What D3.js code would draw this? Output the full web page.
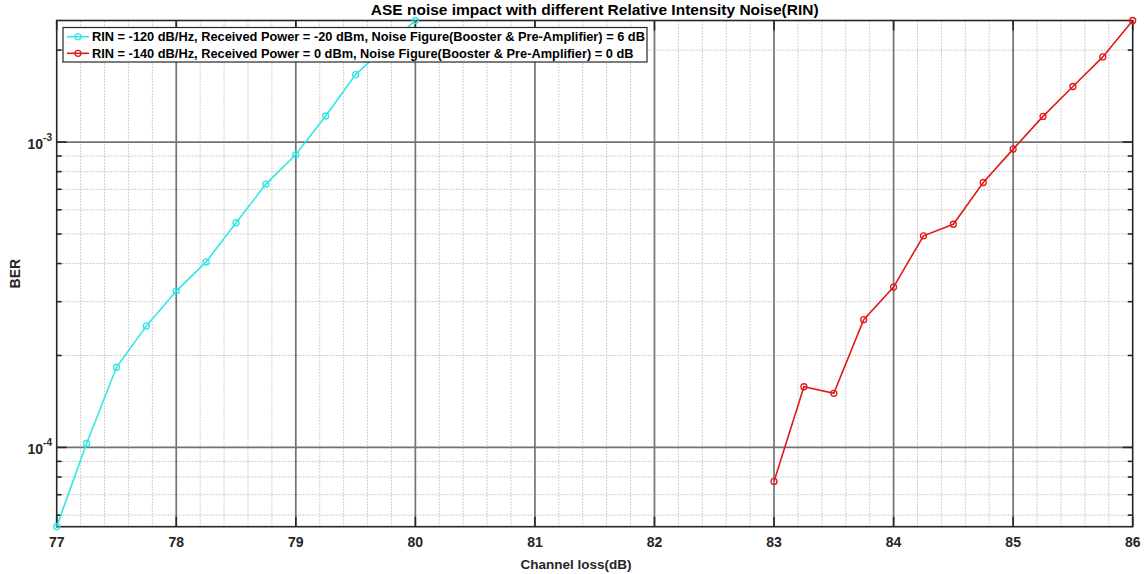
<!DOCTYPE html>
<meta charset="utf-8">
<style>
body { margin: 0; background: #fff; }
svg { font-family: "Liberation Sans", Arial, sans-serif; font-weight: bold; }
.major { stroke: #737373; stroke-width: 1.7px; }
.minor { stroke: #c0c0c0; stroke-width: 1px; stroke-dasharray: 1.5,1.5; }
</style>
<svg></svg>
<script src="https://d3js.org/d3.v7.min.js"></script>
<script>

var width = 1145,
    height = 574;

var margin = {top: 20.5, right: 12.3, bottom: 47.3, left: 56.7};

// channel loss values (dB)
var lossA = [77, 77.25, 77.5, 77.75, 78, 78.25, 78.5, 78.75, 79, 79.25, 79.5, 79.75, 80];
var berA = [5.5e-5, 1.03e-4, 1.83e-4, 2.50e-4, 3.25e-4, 4.05e-4, 5.44e-4, 7.28e-4, 9.1e-4, 1.217e-3, 1.662e-3, 2.05e-3, 2.5e-3];

var lossB = [83, 83.25, 83.5, 83.75, 84, 84.25, 84.5, 84.75, 85, 85.25, 85.5, 85.75, 86];
var berB = [7.74e-5, 1.58e-4, 1.503e-4, 2.62e-4, 3.35e-4, 4.93e-4, 5.38e-4, 7.37e-4, 9.48e-4, 1.213e-3, 1.52e-3, 1.90e-3, 2.5e-3];

var labels = [
  "RIN = -120 dB/Hz, Received Power = -20 dBm, Noise Figure(Booster & Pre-Amplifier) = 6 dB",
  "RIN = -140 dB/Hz, Received Power = 0 dBm, Noise Figure(Booster & Pre-Amplifier) = 0 dB"
];
var colors = ["#33e6e6", "#e01a1a"];

var xTicks = [77, 78, 79, 80, 81, 82, 83, 84, 85, 86];
var yTicks = [1e-4, 1e-3];
var yExp = ["-4", "-3"];

var svg = d3.select("svg")
    .attr("width", width)
    .attr("height", height);

var x = d3.scaleLinear()
    .domain([77, 86])
    .range([margin.left, width - margin.right]);

var y = d3.scaleLog()
    .domain([5.5e-5, 2.5e-3])
    .range([height - margin.bottom, margin.top]);

var x0 = x.range()[0], x1 = x.range()[1],
    y0 = y.range()[0], y1 = y.range()[1];

// minor grid
var xMinor = d3.range(77, 86.001, 0.2).filter(function(d) { return Math.abs(d - Math.round(d)) > 0.01; });
var yMinor = [];
[-5, -4, -3].forEach(function(e) {
  for (var m = 2; m <= 9; m++) {
    var v = m * Math.pow(10, e);
    if (v > y.domain()[0] && v < y.domain()[1]) yMinor.push(v);
  }
});

var grid = svg.append("g");

grid.selectAll(".vminor")
    .data(xMinor)
  .enter().append("line")
    .attr("class", "minor")
    .attr("x1", x).attr("x2", x)
    .attr("y1", y0).attr("y2", y1);

grid.selectAll(".hminor")
    .data(yMinor)
  .enter().append("line")
    .attr("class", "minor")
    .attr("y1", y).attr("y2", y)
    .attr("x1", x0).attr("x2", x1);

grid.selectAll(".vmajor")
    .data(xTicks.slice(1, -1))
  .enter().append("line")
    .attr("class", "major")
    .attr("x1", x).attr("x2", x)
    .attr("y1", y0).attr("y2", y1);

grid.selectAll(".hmajor")
    .data(yTicks)
  .enter().append("line")
    .attr("class", "major")
    .attr("y1", y).attr("y2", y)
    .attr("x1", x0).attr("x2", x1);

// axes with inward ticks
var ax = svg.append("g").attr("stroke", "#262626").attr("stroke-width", 1.6);

function tickLines(data, fn, len) {
  ax.append("g").selectAll("line")
      .data(data)
    .enter().append("line")
      .each(function(d) { fn(d3.select(this), d, len); });
}

tickLines(xTicks, function(s, d, l) { s.attr("x1", x(d)).attr("x2", x(d)).attr("y1", y0).attr("y2", y0 - l); }, 10);
tickLines(xTicks, function(s, d, l) { s.attr("x1", x(d)).attr("x2", x(d)).attr("y1", y1).attr("y2", y1 + l); }, 10);
tickLines(yTicks, function(s, d, l) { s.attr("y1", y(d)).attr("y2", y(d)).attr("x1", x0).attr("x2", x0 + l); }, 10);
tickLines(yTicks, function(s, d, l) { s.attr("y1", y(d)).attr("y2", y(d)).attr("x1", x1).attr("x2", x1 - l); }, 10);
tickLines(yMinor, function(s, d, l) { s.attr("y1", y(d)).attr("y2", y(d)).attr("x1", x0).attr("x2", x0 + l); }, 5);
tickLines(yMinor, function(s, d, l) { s.attr("y1", y(d)).attr("y2", y(d)).attr("x1", x1).attr("x2", x1 - l); }, 5);

ax.append("rect")
    .attr("x", x0).attr("y", y1)
    .attr("width", x1 - x0).attr("height", y0 - y1)
    .attr("fill", "none");

// tick labels
svg.append("g").selectAll("text")
    .data(xTicks)
  .enter().append("text")
    .attr("x", x)
    .attr("y", 547)
    .attr("text-anchor", "middle")
    .attr("font-size", 14)
    .attr("fill", "#262626")
    .text(function(d) { return d; });

var yl = svg.append("g").selectAll("text")
    .data(yTicks)
  .enter().append("text")
    .attr("x", 52)
    .attr("y", function(d) { return y(d) + 7; })
    .attr("text-anchor", "end")
    .attr("font-size", 14)
    .attr("fill", "#262626");
yl.append("tspan").text("10");
yl.append("tspan")
    .attr("dy", -8)
    .attr("font-size", 10)
    .text(function(d, i) { return yExp[i]; });

// labels
svg.append("text")
    .attr("x", (x0 + x1) / 2)
    .attr("y", 15)
    .attr("text-anchor", "middle")
    .attr("font-size", 15.5)
    .text("ASE noise impact with different Relative Intensity Noise(RIN)");

svg.append("text")
    .attr("x", 576)
    .attr("y", 569)
    .attr("text-anchor", "middle")
    .attr("font-size", 13.5)
    .attr("fill", "#262626")
    .text("Channel loss(dB)");

svg.append("text")
    .attr("transform", "translate(20," + ((y0 + y1) / 2) + ") rotate(-90)")
    .attr("text-anchor", "middle")
    .attr("font-size", 14)
    .attr("fill", "#262626")
    .text("BER");

// series
var series = [
  {loss: lossA, ber: berA},
  {loss: lossB, ber: berB}
];

var line = d3.line()
    .x(function(d) { return x(d[0]); })
    .y(function(d) { return y(d[1]); });

var plot = svg.append("g");

series.forEach(function(s, i) {
  var pts = d3.zip(s.loss, s.ber);
  plot.append("path")
      .datum(pts)
      .attr("d", line)
      .attr("fill", "none")
      .attr("stroke", colors[i])
      .attr("stroke-width", 1.6);
  plot.selectAll(".m" + i)
      .data(pts)
    .enter().append("circle")
      .attr("cx", function(d) { return x(d[0]); })
      .attr("cy", function(d) { return y(d[1]); })
      .attr("r", 3)
      .attr("fill", "none")
      .attr("stroke", colors[i])
      .attr("stroke-width", 1.3);
});

// legend
var legend = svg.append("g");

legend.append("rect")
    .attr("x", 63).attr("y", 27.5)
    .attr("width", 584).attr("height", 34.5)
    .attr("fill", "#fff")
    .attr("stroke", "#262626")
    .attr("stroke-width", 1.2);

labels.forEach(function(t, i) {
  var ly = 36.7 + i * 16.6;
  legend.append("line")
      .attr("x1", 67).attr("x2", 89)
      .attr("y1", ly).attr("y2", ly)
      .attr("stroke", colors[i])
      .attr("stroke-width", 1.6);
  legend.append("circle")
      .attr("cx", 78).attr("cy", ly).attr("r", 3)
      .attr("fill", "none")
      .attr("stroke", colors[i])
      .attr("stroke-width", 1.3);
  legend.append("text")
      .attr("x", 92)
      .attr("y", ly + 4.5)
      .attr("font-size", 12.8)
      .text(t);
});

</script>
